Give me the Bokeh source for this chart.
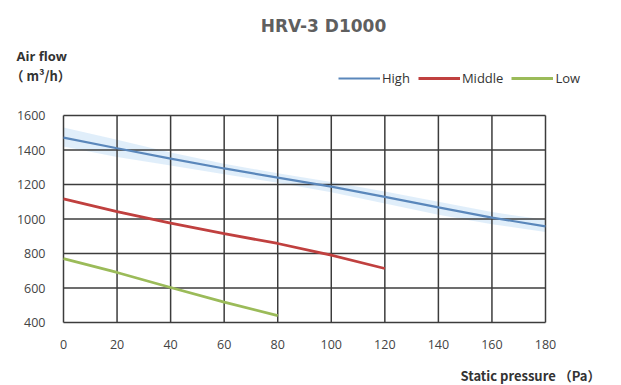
from bokeh.plotting import figure
from bokeh.models import Label, Legend, LegendItem, FixedTicker, LinearAxis, Range1d
from bokeh.embed import file_html
from bokeh.resources import INLINE

# Data
pressure_high = [0, 20, 40, 60, 80, 100, 120, 140, 160, 180]
flow_high = [1472, 1410, 1350, 1293, 1240, 1188, 1128, 1067, 1008, 957]
band_high_upper = [1530, 1460, 1385, 1320, 1265, 1215, 1160, 1100, 1040, 995]
band_high_lower = [1420, 1360, 1310, 1260, 1210, 1155, 1090, 1025, 970, 925]
pressure_mid = [0, 20, 40, 60, 80, 100, 120]
flow_mid = [1117, 1043, 976, 915, 858, 790, 713]
pressure_low = [0, 20, 40, 60, 80]
flow_low = [770, 690, 603, 518, 440]
x_ticks = [0, 20, 40, 60, 80, 100, 120, 140, 160, 180]
y_ticks = [400, 600, 800, 1000, 1200, 1400, 1600]

# Layout (canvas pixels)
W, H = 621, 385
BOX_L, BOX_R, BOX_T, BOX_B = 63, 545, 115, 322

xmin, xmax = x_ticks[0], x_ticks[-1]
ymin, ymax = y_ticks[0], y_ticks[-1]
sx = (BOX_R - BOX_L) / (xmax - xmin)
sy = (BOX_B - BOX_T) / (ymax - ymin)
x_range = Range1d(xmin - BOX_L / sx, xmax + (W - BOX_R) / sx)
y_range = Range1d(ymin - (H - BOX_B) / sy, ymax + BOX_T / sy)

p = figure(width=W, height=H, output_backend="svg", toolbar_location=None,
           x_range=x_range, y_range=y_range, title=None,
           x_axis_location=None, y_axis_location=None,
           min_border=0)
p.background_fill_color = "white"
p.border_fill_color = "white"
p.outline_line_color = None
p.xgrid.visible = False
p.ygrid.visible = False

# soft band around High curve
p.varea(x=pressure_high, y1=band_high_lower, y2=band_high_upper,
        fill_color="#cfe5f7", fill_alpha=0.65)

# grid box
GRID = "#3c3c3c"
p.segment(x0=x_ticks, y0=[ymin] * len(x_ticks), x1=x_ticks, y1=[ymax] * len(x_ticks),
          line_color=GRID, line_width=1.5)
p.segment(x0=[xmin] * len(y_ticks), y0=y_ticks, x1=[xmax] * len(y_ticks), y1=y_ticks,
          line_color=GRID, line_width=1.5)

r_high = p.line(pressure_high, flow_high, line_color="#5a87bb", line_width=2.2)
r_mid = p.line(pressure_mid, flow_mid, line_color="#c0403f", line_width=2.8)
r_low = p.line(pressure_low, flow_low, line_color="#9bbb59", line_width=2.8)

xaxis = LinearAxis(fixed_location=ymin, ticker=FixedTicker(ticks=x_ticks))
yaxis = LinearAxis(fixed_location=xmin, ticker=FixedTicker(ticks=y_ticks))
for ax in (xaxis, yaxis):
    ax.axis_line_color = None
    ax.major_tick_line_color = None
    ax.minor_tick_line_color = None
    ax.major_tick_out = 0
    ax.major_tick_in = 0
    ax.major_label_text_font = "Open Sans"
    ax.major_label_text_font_size = "12.5px"
    ax.major_label_text_color = "#444444"
xaxis.major_label_standoff = 17
yaxis.major_label_standoff = 18
p.add_layout(xaxis, "below")
p.add_layout(yaxis, "left")

legend = Legend(items=[LegendItem(label="High", renderers=[r_high]),
                       LegendItem(label="Middle", renderers=[r_mid]),
                       LegendItem(label="Low", renderers=[r_low])],
                orientation="horizontal", location=(338, 298),
                glyph_width=42, glyph_height=14, label_standoff=2, spacing=8,
                padding=0, margin=0, border_line_color=None,
                background_fill_alpha=0,
                label_text_font="Open Sans", label_text_font_size="13px",
                label_text_color="#333333")
p.add_layout(legend, "center")

def lab(text, x, y, size, bold=False, align="left", font="Open Sans", color="#333333"):
    p.add_layout(Label(x=x, y=y, x_units="screen", y_units="screen", text=text,
                       text_font=font, text_font_size=size,
                       text_font_style="bold" if bold else "normal",
                       text_align=align, text_baseline="middle", text_color=color))

lab("HRV-3 D1000", 323, 360, "17px", bold=True, align="center", font="DejaVu Sans", color="#5f5f5f")
lab("Air flow", 16, 330, "13px", bold=True)
lab("（ m³/h）", 10, 310, "13px", bold=True, font="Noto Sans CJK SC")
lab("Static pressure （Pa）", 460, 10, "13px", bold=True, font="Noto Sans CJK SC")

open("out.html", "w").write(file_html(p, INLINE))
